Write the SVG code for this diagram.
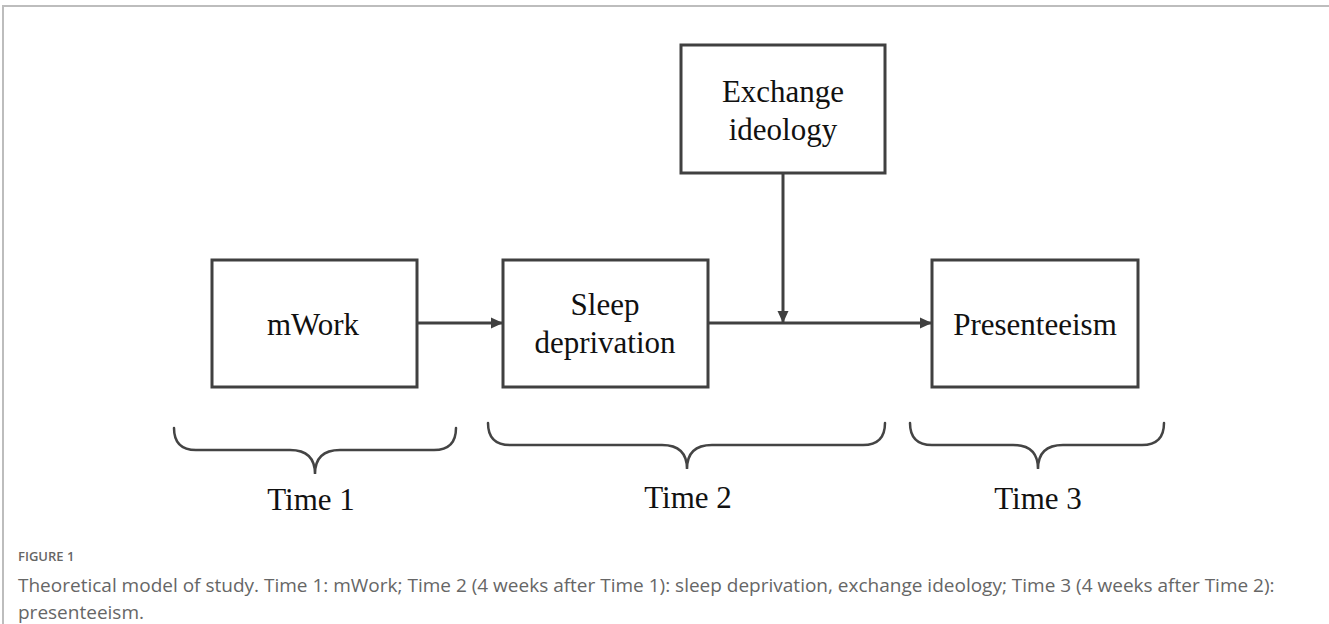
<svg xmlns="http://www.w3.org/2000/svg" width="1329" height="624" viewBox="0 0 1329 624">
  <style>
    .box { fill: #ffffff; stroke: #404040; stroke-width: 3; }
    .lbl { font-family: "Liberation Serif", "Times New Roman", serif; font-size: 31px; fill: #111111; text-anchor: middle; }
    .edge { fill: none; stroke: #404040; stroke-width: 3; }
    .brace { fill: none; stroke: #444444; stroke-width: 2.5; stroke-linecap: round; }
    .cap { font-family: "Open Sans", "Noto Sans", sans-serif; fill: #666666; }
  </style>
  <defs>
    <marker id="arr" markerWidth="12" markerHeight="12" refX="11" refY="6" orient="auto" markerUnits="userSpaceOnUse">
      <path d="M0,0.5 L12,6 L0,11.5 Z" fill="#404040"/>
    </marker>
  </defs>
  <rect width="1329" height="624" fill="#ffffff"/>
  <path d="M3,624 V6 H1329" fill="none" stroke="#bdbdbd" stroke-width="2"/>

  <g id="connectors">
    <line class="edge" x1="417" y1="323" x2="502" y2="323" marker-end="url(#arr)"/>
    <line class="edge" x1="708" y1="323" x2="931" y2="323" marker-end="url(#arr)"/>
    <line class="edge" x1="783" y1="173" x2="783" y2="322" marker-end="url(#arr)"/>
  </g>

  <g id="node-mwork">
    <rect class="box" x="212" y="260" width="205" height="127"/>
    <text class="lbl" x="313" y="335">mWork</text>
  </g>
  <g id="node-sleep">
    <rect class="box" x="503" y="260" width="205" height="127"/>
    <text class="lbl" x="605" y="315">Sleep</text>
    <text class="lbl" x="605" y="353">deprivation</text>
  </g>
  <g id="node-exchange">
    <rect class="box" x="681" y="45" width="204" height="128"/>
    <text class="lbl" x="783" y="102">Exchange</text>
    <text class="lbl" x="783" y="140">ideology</text>
  </g>
  <g id="node-presenteeism">
    <rect class="box" x="932" y="260" width="206" height="127"/>
    <text class="lbl" x="1035" y="335">Presenteeism</text>
  </g>

  <g id="time1">
    <path class="brace" d="M174,428 Q174,450 196,450 L290,450 Q315,450 315,474 Q315,450 340,450 L434,450 Q456,450 456,428"/>
    <text class="lbl" x="311" y="510">Time 1</text>
  </g>
  <g id="time2">
    <path class="brace" d="M488,423 Q488,445 510,445 L662,445 Q687,445 687,469 Q687,445 712,445 L863,445 Q885,445 885,423"/>
    <text class="lbl" x="688" y="508">Time 2</text>
  </g>
  <g id="time3">
    <path class="brace" d="M910,423 Q910,445 932,445 L1013,445 Q1038,445 1038,469 Q1038,445 1063,445 L1142,445 Q1164,445 1164,423"/>
    <text class="lbl" x="1038" y="509">Time 3</text>
  </g>

  <g id="caption">
    <text class="cap" x="18" y="561" font-size="13" font-weight="600" fill="#6e6e6e">FIGURE 1</text>
    <text class="cap" x="18" y="592" font-size="19">Theoretical model of study. Time 1: mWork; Time 2 (4 weeks after Time 1): sleep deprivation, exchange ideology; Time 3 (4 weeks after Time 2):</text>
    <text class="cap" x="18" y="619" font-size="19">presenteeism.</text>
  </g>
</svg>
